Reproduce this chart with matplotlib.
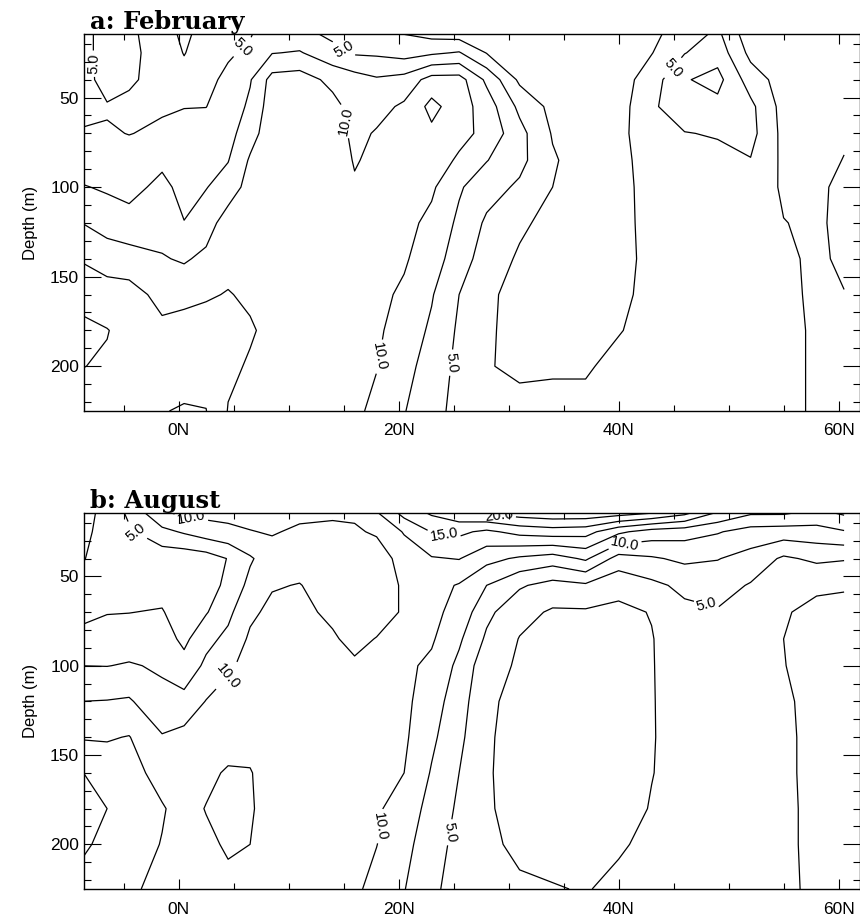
import numpy as np
import matplotlib
matplotlib.use('Agg')
import matplotlib.pyplot as plt

plt.rcParams['font.family'] = ['Liberation Sans', 'DejaVu Sans']

# grid: latitude (deg N) and depth (m)
lat = [-9, -6.5, -4.5, -1.5, 0.5, 2.5, 4.5, 6.5, 8.5, 11, 14, 16, 18, 20.5,
       23, 25.5, 28, 31, 34, 37, 40, 43, 46, 49, 52, 55, 58, 60.5]
depth = [14, 25, 40, 55, 70, 85, 100, 120, 140, 160, 180, 200, 225]

# February field, one list per latitude column (top -> bottom)
feb_cols = [
    [4.0, 3.8, 3.8, 4.2, 5.2, 6.3, 7.7, 10.1, 12.4, 13.8, 16.0, 15.1, 13.8],
    [6.0, 6.2, 6.0, 4.8, 5.2, 6.3, 7.2, 8.8, 11.6, 13.4, 15.1, 14.7, 14.0],
    [5.3, 5.4, 5.2, 4.7, 4.95, 5.8, 6.9, 8.2, 11.2, 13.4, 14.1, 14.0, 13.9],
    [4.2, 4.3, 4.5, 4.8, 5.3, 7.1, 8.0, 8.9, 10.2, 11.8, 13.0, 14.0, 14.9],
    [5.4, 5.05, 4.6, 4.95, 5.6, 6.3, 6.9, 7.55, 9.7, 11.8, 13.5, 14.0, 15.2],
    [4.3, 4.4, 4.6, 4.97, 5.8, 6.6, 7.4, 8.8, 10.6, 12.3, 13.3, 14.2, 15.05],
    [4.5, 4.8, 5.35, 5.9, 6.6, 7.4, 8.6, 11.3, 11.9, 12.6, 13.0, 12.9, 12.4],
    [4.85, 5.3, 7.3, 8.0, 9.0, 10.3, 11.0, 11.3, 11.6, 12.2, 12.7, 12.3, 11.8],
    [6.0, 7.4, 10.9, 11.3, 11.5, 11.6, 11.7, 11.8, 11.9, 12.0, 12.0, 11.9, 11.7],
    [5.8, 7.7, 11.2, 11.5, 11.6, 11.7, 11.7, 11.8, 11.8, 11.8, 11.7, 11.6, 11.5],
    [4.3, 5.9, 9.3, 10.8, 11.3, 11.6, 11.7, 11.7, 11.6, 11.5, 11.4, 11.3, 11.2],
    [4.0, 4.7, 8.6, 9.0, 9.4, 9.8, 10.3, 10.8, 11.0, 11.1, 11.0, 10.8, 10.5],
    [3.8, 4.6, 7.8, 9.2, 10.2, 10.6, 10.8, 10.9, 10.8, 10.6, 10.4, 10.1, 9.4],
    [2.4, 4.0, 8.4, 10.4, 10.8, 10.9, 10.9, 10.7, 10.3, 9.6, 8.9, 8.2, 7.6],
    [1.6, 4.6, 11.0, 13.2, 12.0, 11.4, 10.4, 9.4, 8.6, 7.7, 7.1, 6.6, 6.1],
    [1.2, 5.2, 11.0, 11.2, 10.8, 9.6, 7.8, 7.0, 6.3, 5.0, 4.6, 4.3, 4.0],
    [1.6, 2.4, 7.0, 8.8, 9.3, 7.6, 6.0, 4.6, 3.7, 2.9, 2.8, 2.6, 2.9],
    [1.2, 1.3, 2.0, 4.4, 5.8, 5.7, 4.6, 2.9, 2.2, 1.8, 1.8, 2.2, 3.0],
    [1.0, 1.0, 1.2, 1.8, 2.3, 2.8, 2.5, 1.8, 1.4, 1.3, 1.5, 2.3, 3.0],
    [1.0, 0.9, 0.9, 1.0, 1.1, 1.2, 1.2, 1.2, 1.2, 1.3, 1.6, 2.3, 3.0],
    [1.2, 1.2, 1.3, 1.4, 1.5, 1.6, 1.7, 1.8, 1.9, 2.1, 2.4, 3.0, 3.5],
    [2.0, 2.4, 3.8, 4.6, 4.7, 3.8, 3.4, 3.2, 3.0, 3.0, 3.1, 3.3, 3.5],
    [3.5, 4.9, 7.3, 6.5, 4.9, 4.0, 3.7, 3.5, 3.3, 3.2, 3.2, 3.3, 3.4],
    [5.5, 6.5, 8.3, 6.8, 5.2, 4.3, 3.8, 3.6, 3.5, 3.4, 3.3, 3.2, 3.1],
    [0.8, 1.8, 3.8, 5.6, 5.8, 4.9, 3.9, 3.5, 3.3, 3.1, 3.0, 2.9, 2.9],
    [1.3, 1.3, 1.4, 1.6, 1.8, 2.0, 2.2, 2.55, 2.8, 2.9, 2.9, 2.9, 2.9],
    [1.6, 1.6, 1.7, 1.8, 1.9, 2.0, 2.1, 2.2, 2.2, 2.2, 2.3, 2.3, 2.3],
    [1.8, 1.8, 1.9, 2.1, 2.3, 2.55, 3.0, 3.0, 2.8, 2.45, 2.2, 2.1, 2.0],
]

# August field
aug_cols = [
    [1.8, 1.9, 2.2, 3.0, 4.6, 5.4, 7.5, 10.0, 12.3, 15.2, 16.0, 15.4, 14.4],
    [3.0, 3.2, 3.6, 4.0, 4.9, 6.0, 7.45, 10.1, 12.3, 13.8, 15.0, 14.5, 14.0],
    [5.6, 4.6, 4.0, 4.2, 4.95, 6.3, 7.7, 10.3, 12.6, 13.4, 13.8, 13.6, 13.2],
    [9.8, 6.8, 3.5, 3.9, 5.2, 6.2, 7.2, 8.1, 10.2, 11.6, 12.7, 12.4, 11.3],
    [10.6, 7.8, 3.4, 3.2, 3.4, 4.4, 5.9, 8.3, 10.8, 11.3, 11.6, 11.5, 11.2],
    [10.8, 8.8, 3.8, 3.9, 4.8, 6.8, 8.0, 10.1, 11.2, 11.9, 12.6, 12.0, 11.4],
    [10.8, 9.4, 5.1, 5.6, 6.9, 8.1, 9.6, 11.0, 11.3, 12.8, 13.2, 12.8, 11.9],
    [10.9, 9.9, 7.2, 8.2, 9.5, 10.4, 10.8, 11.3, 11.9, 12.6, 12.7, 12.5, 11.8],
    [11.0, 10.2, 8.9, 9.8, 10.6, 11.0, 11.2, 11.4, 11.6, 11.7, 11.7, 11.6, 11.4],
    [10.6, 9.6, 8.9, 10.1, 10.6, 11.0, 11.1, 11.3, 11.3, 11.3, 11.2, 11.1, 11.0],
    [10.3, 9.6, 9.0, 8.8, 9.5, 10.3, 11.0, 11.2, 11.3, 11.3, 11.2, 11.1, 10.9],
    [10.4, 9.7, 9.0, 8.5, 8.6, 9.3, 10.4, 10.8, 11.0, 11.0, 10.9, 10.7, 10.4],
    [12.4, 10.3, 8.7, 8.4, 8.8, 10.1, 10.6, 10.8, 10.8, 10.6, 10.3, 10.05, 9.3],
    [16.0, 12.7, 11.0, 10.4, 10.3, 10.4, 10.5, 10.6, 10.4, 10.0, 9.0, 8.3, 7.6],
    [18.0, 15.1, 12.3, 10.9, 10.6, 10.3, 9.5, 8.6, 8.0, 7.3, 6.6, 6.0, 5.5],
    [19.5, 15.5, 12.6, 9.8, 9.2, 7.9, 6.9, 6.2, 5.6, 5.0, 4.6, 4.3, 4.0],
    [20.5, 14.5, 10.8, 7.5, 5.6, 4.6, 3.4, 2.8, 2.7, 2.65, 2.7, 2.9, 3.1],
    [21.5, 15.8, 9.6, 5.3, 3.3, 2.4, 2.2, 2.0, 1.9, 1.9, 1.9, 2.1, 2.8],
    [22.0, 16.3, 8.8, 4.1, 2.2, 1.8, 1.6, 1.5, 1.4, 1.4, 1.5, 1.9, 2.6],
    [22.0, 16.0, 10.4, 4.6, 2.2, 1.7, 1.5, 1.4, 1.3, 1.3, 1.4, 1.7, 2.4],
    [21.5, 13.0, 6.5, 3.2, 2.0, 1.8, 1.6, 1.5, 1.5, 1.6, 1.8, 2.3, 2.9],
    [20.5, 11.4, 7.2, 4.4, 2.6, 2.4, 2.4, 2.4, 2.4, 2.45, 2.6, 2.9, 3.2],
    [18.5, 11.0, 8.0, 5.6, 4.4, 3.8, 3.5, 3.3, 3.2, 3.1, 3.1, 3.1, 3.1],
    [15.0, 10.2, 7.6, 6.0, 4.8, 3.9, 3.5, 3.3, 3.2, 3.1, 3.1, 3.1, 3.0],
    [13.0, 9.0, 6.6, 4.8, 4.3, 3.9, 3.6, 3.4, 3.2, 3.1, 3.0, 2.9, 2.8],
    [13.0, 8.8, 4.6, 2.7, 2.6, 2.5, 2.55, 2.8, 2.9, 2.9, 2.9, 2.9, 2.9],
    [12.0, 9.0, 5.5, 2.7, 2.2, 2.0, 1.9, 1.9, 1.9, 1.9, 2.0, 2.0, 2.1],
    [13.0, 9.8, 5.2, 2.6, 2.2, 2.0, 1.9, 1.9, 1.9, 1.9, 1.9, 2.0, 2.0],
]

feb_plain = [2.5, 7.5, 12.5, 15.0]
feb_labelled = [5.0, 10.0]
aug_plain = [2.5, 7.5, 12.5, 17.5, 22.5]
aug_labelled = [5.0, 10.0, 15.0, 20.0]

# where the line labels sit (lat, depth)
feb_label_pos = [(-7.4, 31), (5.7, 21), (15.1, 22), (14.5, 64), (44.5, 31),
                 (18.6, 195), (24.8, 198)]
aug_label_pos = [(-3.8, 24), (1.1, 19), (4.3, 105), (24.1, 27), (29.1, 17),
                 (40.5, 29), (48.2, 61), (18.5, 190), (24.4, 193)]

xticks = [0, 20, 40, 60]
xticklabels = ['0N', '20N', '40N', '60N']
yticks = [50, 100, 150, 200]


def draw_panel(ax, cols, plain, labelled, label_pos, title):
    z = np.array(cols).T
    ax.contour(lat, depth, z, levels=plain, colors='k', linewidths=0.9)
    cs = ax.contour(lat, depth, z, levels=labelled, colors='k', linewidths=0.9)
    ax.clabel(cs, manual=label_pos, fmt='%.1f', fontsize=10.5,
              inline=True, inline_spacing=3)
    ax.set_xlim(-8.6, 61.9)
    ax.set_ylim(225, 14.5)
    ax.set_xticks(xticks)
    ax.set_xticklabels(xticklabels)
    ax.set_xticks(np.arange(-5, 61, 5), minor=True)
    ax.set_yticks(yticks)
    ax.set_yticks(np.arange(20, 225, 10), minor=True)
    ax.tick_params(which='both', direction='in', top=True, right=True,
                   labelsize=12.5, width=0.8)
    ax.tick_params(axis='y', which='major', length=12)
    ax.tick_params(axis='y', which='minor', length=5)
    ax.tick_params(axis='x', which='major', length=7, pad=9)
    ax.tick_params(axis='x', which='minor', length=4)
    for s in ax.spines.values():
        s.set_linewidth(1.0)
    ax.set_ylabel('Depth (m)', fontsize=12, labelpad=9)
    ax.text(0.008, 1.014, title, transform=ax.transAxes, ha='left',
            va='baseline', fontsize=17.5, fontweight='bold', family='DejaVu Serif')


fig = plt.figure(figsize=(8.6, 9.18), dpi=100)
ax1 = fig.add_axes([84 / 860, 1 - 411 / 918, 775.5 / 860, 377 / 918])
ax2 = fig.add_axes([84 / 860, 1 - 889 / 918, 775.5 / 860, 376 / 918])

draw_panel(ax1, feb_cols, feb_plain, feb_labelled, feb_label_pos, 'a: February')
draw_panel(ax2, aug_cols, aug_plain, aug_labelled, aug_label_pos, 'b: August')

fig.savefig('out.png', dpi=100)
